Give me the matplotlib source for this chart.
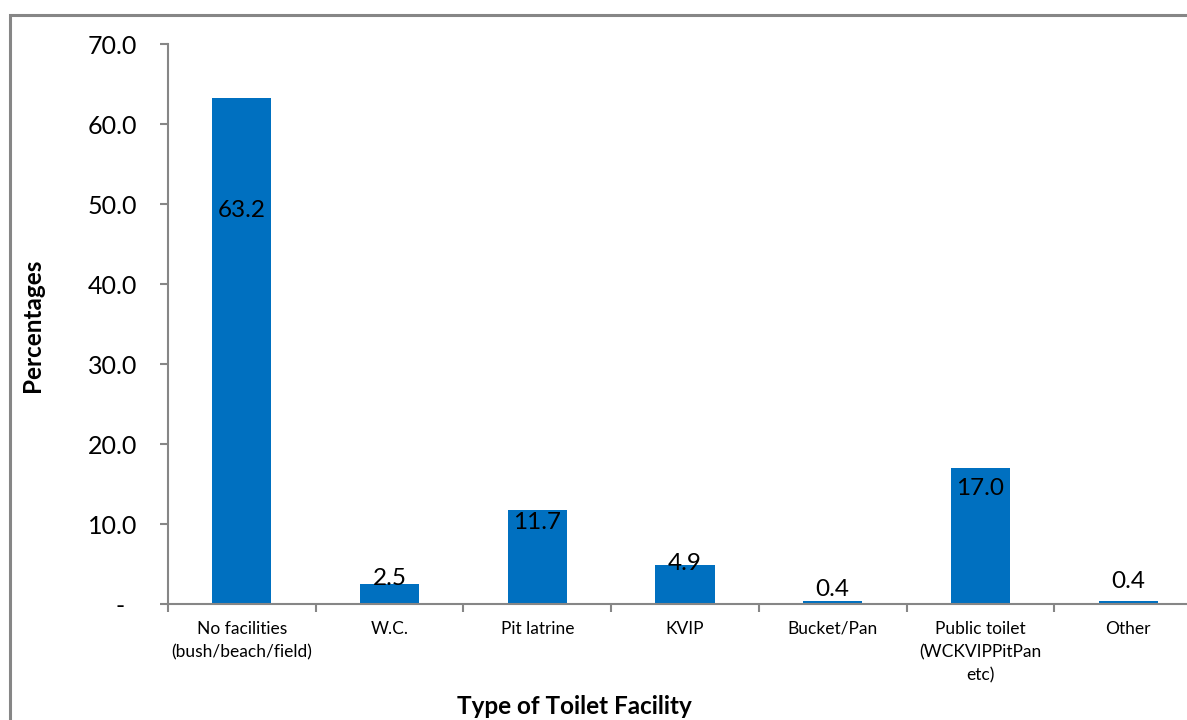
import matplotlib.pyplot as plt
from matplotlib.patches import Rectangle

# data
categories = ['No facilities\n(bush/beach/field)', 'W.C.', 'Pit latrine', 'KVIP',
              'Bucket/Pan', 'Public toilet\n(WCKVIPPitPan\netc)', 'Other']
percentages = [63.2, 2.5, 11.7, 4.9, 0.4, 17.0, 0.4]
# where Excel put each data label (in percent units)
label_pos = [49.2, 3.2, 10.2, 5.1, 1.8, 14.4, 2.8]
y_ticks = [0, 10, 20, 30, 40, 50, 60, 70]
y_tick_labels = ['-  ', '10.0', '20.0', '30.0', '40.0', '50.0', '60.0', '70.0']

plt.rcParams['font.family'] = ['Lato', 'DejaVu Sans']

fig = plt.figure(figsize=(11.87, 7.2), dpi=100)

# chart-area frame (cut off at the right and bottom in the reference)
fig.patches.append(Rectangle((10 / 1187, -0.1), 1.2, 1.1 - 15 / 720,
                             transform=fig.transFigure, fill=False,
                             edgecolor='#868686', linewidth=2.2))

ax = fig.add_axes([168 / 1187, 1 - 604 / 720, 1034 / 1187, 560 / 720])

x = range(len(categories))
ax.bar(x, percentages, width=0.4, color='#0070C0', zorder=2)

for i, (v, p) in enumerate(zip(percentages, label_pos)):
    ax.text(i, p, f'{v:.1f}', ha='center', va='center', fontsize=17.5, color='black', zorder=3)

ax.set_xlim(-0.5, len(categories) - 0.5)
ax.set_ylim(0, 70)

ax.set_yticks(y_ticks)
ax.set_yticklabels(y_tick_labels, fontsize=18)
ax.tick_params(axis='y', length=6, width=1.5, color='#868686', pad=16)

ax.set_xticks([i - 0.5 for i in range(len(categories) + 1)])
ax.set_xticklabels([])
ax.tick_params(axis='x', which='major', length=6, width=1.5, color='#868686')
ax.set_xticks(list(x), minor=True)
ax.set_xticklabels(categories, minor=True, fontsize=12.5, linespacing=1.55)
ax.tick_params(axis='x', which='minor', length=0, pad=12)

for s in ['top', 'right']:
    ax.spines[s].set_visible(False)
for s in ['left', 'bottom']:
    ax.spines[s].set_color('#868686')
    ax.spines[s].set_linewidth(1.5)

fig.text(574 / 1187, 1 - 707 / 720, 'Type of Toilet Facility', ha='center', va='center',
         fontsize=17.5, fontweight='bold')
fig.text(33 / 1187, 1 - 325 / 720, 'Percentages', ha='center', va='center',
         rotation=90, fontsize=17.5, fontweight='bold')

fig.savefig('out.png', dpi=100)
